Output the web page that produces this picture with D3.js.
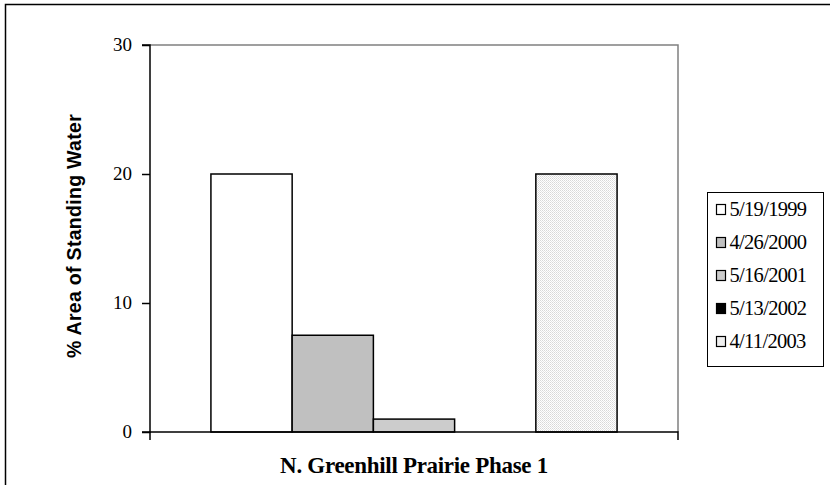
<!DOCTYPE html>
<html>
<head>
<meta charset="utf-8">
<script src="https://cdn.jsdelivr.net/npm/d3@7"></script>
<style>
  body { margin: 0; background: #fff; }
  svg { display: block; }
</style>
</head>
<body>
<div id="chart"><svg width="830" height="485"></svg></div>
<script>
// data
var category = "N. Greenhill Prairie Phase 1";
var seriesNames = ["5/19/1999", "4/26/2000", "5/16/2001", "5/13/2002", "4/11/2003"];
var seriesValues = [20, 7.5, 1, 0, 20];
var seriesFills = ["#ffffff", "#c0c0c0", "#cccccc", "#000000", "url(#dots)"];
var yTicks = [0, 10, 20, 30];

var svg = d3.select("#chart").select("svg");

// fine dotted fill for the last series
var pat = svg.append("defs").append("pattern")
    .attr("id", "dots")
    .attr("patternUnits", "userSpaceOnUse")
    .attr("width", 2)
    .attr("height", 2);
pat.append("rect").attr("width", 2).attr("height", 2).attr("fill", "#ffffff");
pat.append("rect").attr("width", 1).attr("height", 1).attr("fill", "#d8d8d8");
pat.append("rect").attr("x", 1).attr("y", 1).attr("width", 1).attr("height", 1).attr("fill", "#e4e4e4");

// outer chart frame
svg.append("rect")
    .attr("x", 5.5).attr("y", 4.5)
    .attr("width", 840).attr("height", 500)
    .attr("fill", "none")
    .attr("stroke", "#000")
    .attr("stroke-width", 1.5);

var plot = {left: 150, right: 678, top: 45, bottom: 432};

var y = d3.scaleLinear()
    .domain([0, 30])
    .range([plot.bottom, plot.top]);

var x0 = d3.scaleBand()
    .domain([category])
    .range([plot.left, plot.right]);

// gap width ~150% of a bar on each side
var barW = x0.bandwidth() / (seriesNames.length + 1.5);
var x1 = d3.scaleBand()
    .domain(seriesNames)
    .range([x0(category) + barW * 0.75, x0(category) + x0.bandwidth() - barW * 0.75]);

// plot area border (top and right in gray)
svg.append("path")
    .attr("d", "M" + plot.left + "," + plot.top + "H" + plot.right + "V" + plot.bottom)
    .attr("fill", "none")
    .attr("stroke", "#808080")
    .attr("stroke-width", 1.5);

// bars
svg.selectAll(".bar")
    .data(seriesValues)
    .enter().append("rect")
    .classed("bar", true)
    .attr("x", function (d, i) {
        return x1(seriesNames[i]);
    })
    .attr("y", function (d) {
        return y(d);
    })
    .attr("width", x1.bandwidth())
    .attr("height", function (d) {
        return plot.bottom - y(d);
    })
    .attr("fill", function (d, i) {
        return seriesFills[i];
    })
    .attr("stroke", "#000")
    .attr("stroke-width", function (d) {
        return d > 0 ? 1.5 : 0;
    });

// y axis
var yAxis = svg.append("g")
    .attr("transform", "translate(" + plot.left + ",0)")
    .call(d3.axisLeft(y).tickValues(yTicks).tickSize(8).tickPadding(10).tickFormat(d3.format("d")));
yAxis.select(".domain").attr("stroke", "#000").attr("stroke-width", 1.5).attr("d", "M-8," + plot.top + "H0V" + plot.bottom + "H-8");
yAxis.selectAll(".tick line").attr("stroke", "#000").attr("stroke-width", 1.5);
yAxis.selectAll(".tick text")
    .attr("font-family", "Liberation Serif, Times New Roman, serif")
    .attr("font-size", 19)
    .attr("dy", "0.3em")
    .attr("fill", "#000");

// x axis
var xAxis = svg.append("g")
    .attr("transform", "translate(0," + plot.bottom + ")")
    .call(d3.axisBottom(x0).tickSize(0).tickFormat(""));
xAxis.select(".domain")
    .attr("stroke", "#000")
    .attr("stroke-width", 1.5)
    .attr("d", "M" + plot.left + ",8V0H" + plot.right + "V8");

svg.append("text")
    .attr("x", x0(category) + x0.bandwidth() / 2)
    .attr("y", 473)
    .attr("text-anchor", "middle")
    .attr("font-family", "Liberation Serif, Times New Roman, serif")
    .attr("font-weight", "bold")
    .attr("font-size", 23)
    .attr("letter-spacing", -0.3)
    .text(category);

svg.append("text")
    .attr("transform", "translate(81," + 236 + ") rotate(-90)")
    .attr("text-anchor", "middle")
    .attr("font-family", "Liberation Sans, Arial, sans-serif")
    .attr("font-weight", "bold")
    .attr("font-size", 19.5)
    .attr("letter-spacing", 0.3)
    .text("% Area of Standing Water");

// legend
var legend = svg.append("g").attr("transform", "translate(707.5,192.5)");
legend.append("rect")
    .attr("width", 116).attr("height", 174)
    .attr("fill", "#fff")
    .attr("stroke", "#000")
    .attr("stroke-width", 1);

var items = legend.selectAll(".item")
    .data(seriesNames)
    .enter().append("g")
    .classed("item", true)
    .attr("transform", function (d, i) {
        return "translate(9," + (17 + i * 33) + ")";
    });

items.append("rect")
    .attr("x", 0).attr("y", -5)
    .attr("width", 9).attr("height", 10)
    .attr("fill", function (d, i) {
        return seriesFills[i];
    })
    .attr("stroke", "#000")
    .attr("stroke-width", 1.2);

items.append("text")
    .attr("x", 13)
    .attr("dy", "0.33em")
    .attr("font-family", "Liberation Serif, Times New Roman, serif")
    .attr("font-size", 20.5)
    .attr("letter-spacing", -0.7)
    .text(function (d) {
        return d;
    });
</script>
</body>
</html>
